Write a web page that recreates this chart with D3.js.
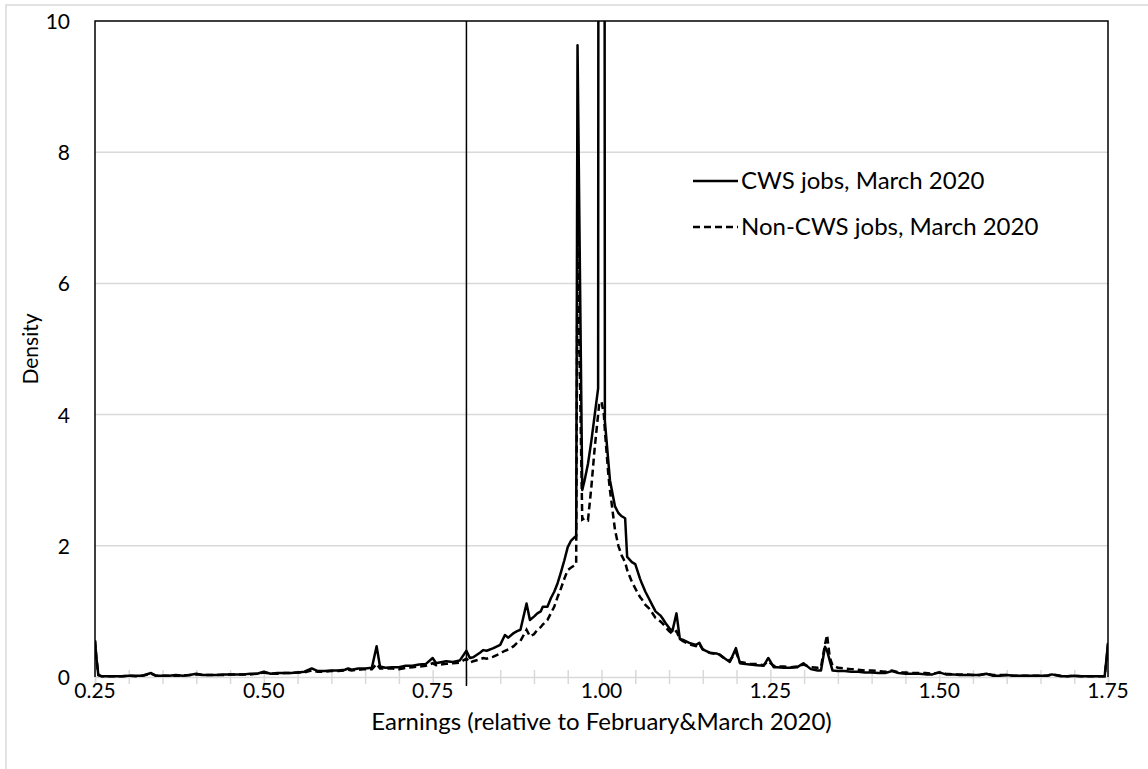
<!DOCTYPE html>
<html>
<head>
<meta charset="utf-8">
<script src="https://cdn.jsdelivr.net/npm/d3@7"></script>
<style>
  body { margin: 0; background: #fff; }
  text { font-family: Lato, "Open Sans", sans-serif; fill: #000; }
</style>
</head>
<body>
<div id="chart"></div>
<script>
// earnings ratio grid (shared by both series)
var earnings = [
  0.250, 0.252, 0.255, 0.26, 0.27, 0.28, 0.29, 0.30, 0.31, 0.32, 0.333, 0.34, 0.35, 0.36, 0.37, 0.38, 0.39,
  0.40, 0.41, 0.42, 0.43, 0.44, 0.45, 0.46, 0.47, 0.48, 0.49, 0.50, 0.51, 0.52, 0.53, 0.54, 0.55, 0.56,
  0.571, 0.58, 0.59, 0.60, 0.61, 0.62, 0.625, 0.63, 0.64, 0.65, 0.66, 0.667, 0.672, 0.68, 0.69, 0.70,
  0.71, 0.72, 0.73, 0.74, 0.75, 0.755, 0.76, 0.77, 0.78, 0.79, 0.80, 0.805, 0.81, 0.82, 0.825, 0.83,
  0.84, 0.85, 0.857, 0.862, 0.87, 0.875, 0.88, 0.889, 0.894, 0.90, 0.905, 0.91, 0.913, 0.92, 0.925,
  0.93, 0.935, 0.94, 0.945, 0.95, 0.955, 0.96, 0.9625, 0.9645, 0.9715, 0.975, 0.98, 0.985, 0.99, 0.995,
  0.9965, 1.00, 1.0035, 1.005, 1.01, 1.0125, 1.02, 1.025, 1.03, 1.035, 1.038, 1.045, 1.05, 1.057, 1.06,
  1.065, 1.07, 1.075, 1.08, 1.087, 1.09, 1.095, 1.10, 1.105, 1.111, 1.116, 1.12, 1.13, 1.14, 1.145,
  1.15, 1.16, 1.17, 1.175, 1.18, 1.19, 1.199, 1.205, 1.21, 1.22, 1.23, 1.24, 1.247, 1.255, 1.26, 1.27,
  1.28, 1.29, 1.299, 1.31, 1.32, 1.325, 1.331, 1.334, 1.338, 1.342, 1.35, 1.36, 1.37, 1.38, 1.39, 1.40,
  1.41, 1.42, 1.43, 1.44, 1.45, 1.46, 1.47, 1.48, 1.49, 1.50, 1.51, 1.52, 1.53, 1.54, 1.55, 1.56, 1.57,
  1.58, 1.59, 1.60, 1.61, 1.62, 1.63, 1.64, 1.65, 1.66, 1.667, 1.68, 1.69, 1.70, 1.71, 1.72, 1.73, 1.74,
  1.745, 1.748, 1.75
];

var cwsJobs = [
  0.56, 0.30, 0.03, 0.01, 0.01, 0.01, 0.01, 0.02, 0.02, 0.02, 0.06, 0.02, 0.02, 0.02, 0.03, 0.02, 0.03,
  0.05, 0.03, 0.03, 0.03, 0.04, 0.04, 0.04, 0.04, 0.05, 0.05, 0.08, 0.05, 0.06, 0.06, 0.06, 0.07, 0.08,
  0.13, 0.09, 0.09, 0.10, 0.10, 0.11, 0.13, 0.11, 0.13, 0.13, 0.14, 0.47, 0.16, 0.14, 0.15, 0.15,
  0.17, 0.17, 0.19, 0.20, 0.29, 0.21, 0.22, 0.24, 0.23, 0.25, 0.40, 0.29, 0.30, 0.37, 0.41, 0.40,
  0.44, 0.49, 0.64, 0.60, 0.67, 0.70, 0.72, 1.12, 0.87, 0.92, 0.97, 1.00, 1.07, 1.07, 1.20,
  1.30, 1.43, 1.60, 1.78, 1.98, 2.08, 2.13, 2.15, 9.63, 2.85, 3.00, 3.25, 3.60, 4.00, 4.40,
  30, 30, 30, 3.90, 3.30, 3.00, 2.60, 2.50, 2.45, 2.42, 1.83, 1.75, 1.72, 1.50, 1.42,
  1.30, 1.20, 1.10, 1.00, 0.94, 0.90, 0.82, 0.75, 0.70, 0.97, 0.58, 0.57, 0.52, 0.49, 0.52,
  0.42, 0.37, 0.36, 0.34, 0.30, 0.23, 0.44, 0.21, 0.20, 0.19, 0.18, 0.17, 0.29, 0.15, 0.15, 0.14,
  0.14, 0.15, 0.21, 0.12, 0.10, 0.10, 0.46, 0.40, 0.25, 0.10, 0.09, 0.09, 0.08, 0.08, 0.07, 0.07,
  0.06, 0.06, 0.09, 0.06, 0.05, 0.05, 0.05, 0.04, 0.04, 0.07, 0.04, 0.04, 0.03, 0.03, 0.03, 0.03, 0.05,
  0.02, 0.02, 0.03, 0.02, 0.02, 0.02, 0.02, 0.02, 0.02, 0.04, 0.01, 0.01, 0.02, 0.01, 0.01, 0.01, 0.01,
  0.01, 0.30, 0.52
];

var nonCwsJobs = [
  0.55, 0.30, 0.03, 0.01, 0.01, 0.01, 0.01, 0.02, 0.01, 0.02, 0.05, 0.02, 0.02, 0.02, 0.02, 0.02, 0.03,
  0.04, 0.03, 0.03, 0.03, 0.03, 0.04, 0.04, 0.04, 0.04, 0.05, 0.07, 0.05, 0.05, 0.06, 0.06, 0.07, 0.07,
  0.10, 0.08, 0.08, 0.09, 0.09, 0.10, 0.11, 0.10, 0.11, 0.12, 0.12, 0.20, 0.13, 0.13, 0.13, 0.12,
  0.14, 0.15, 0.16, 0.17, 0.21, 0.18, 0.19, 0.20, 0.21, 0.22, 0.28, 0.22, 0.24, 0.27, 0.29, 0.28,
  0.31, 0.36, 0.40, 0.42, 0.47, 0.52, 0.55, 0.72, 0.62, 0.65, 0.72, 0.76, 0.80, 0.87, 0.97,
  1.07, 1.22, 1.35, 1.50, 1.63, 1.67, 1.70, 1.72, 6.80, 2.40, 2.42, 2.39, 2.90, 3.50, 4.00,
  4.15, 4.20, 4.00, 3.76, 3.10, 2.85, 2.24, 2.00, 1.85, 1.75, 1.63, 1.45, 1.35, 1.22, 1.18,
  1.10, 1.05, 0.98, 0.90, 0.85, 0.82, 0.76, 0.70, 0.66, 0.70, 0.58, 0.55, 0.50, 0.47, 0.50,
  0.42, 0.37, 0.35, 0.34, 0.30, 0.25, 0.38, 0.23, 0.22, 0.20, 0.20, 0.18, 0.24, 0.17, 0.16, 0.16,
  0.15, 0.16, 0.19, 0.15, 0.14, 0.15, 0.50, 0.64, 0.30, 0.18, 0.14, 0.13, 0.12, 0.11, 0.10, 0.10,
  0.09, 0.08, 0.10, 0.07, 0.07, 0.06, 0.06, 0.06, 0.05, 0.07, 0.05, 0.04, 0.04, 0.04, 0.03, 0.03, 0.05,
  0.03, 0.03, 0.03, 0.02, 0.02, 0.02, 0.02, 0.02, 0.02, 0.04, 0.02, 0.01, 0.02, 0.01, 0.01, 0.01, 0.01,
  0.01, 0.28, 0.50
];

var seriesNames = ['CWS jobs, March 2020', 'Non-CWS jobs, March 2020'];
var xTickLabels = [0.25, 0.50, 0.75, 1.00, 1.25, 1.50, 1.75];
var yTickLabels = [0, 2, 4, 6, 8, 10];
var cutoff = 0.80;

var W = 1148, H = 769;
var pl = 95, pr = 1108, pt = 21, pb = 677;

var svg = d3.select('#chart').append('svg').attr('width', W).attr('height', H);

// outer chart-area border
svg.append('rect')
  .attr('x', 6).attr('y', 5).attr('width', W + 20).attr('height', H + 20)
  .attr('fill', 'none').attr('stroke', '#d9d9d9').attr('stroke-width', 1.5);

var x = d3.scaleLinear().domain([0.25, 1.75]).range([pl, pr]);
var y = d3.scaleLinear().domain([0, 10]).range([pb, pt]);

svg.append('clipPath').attr('id', 'plot')
  .append('rect').attr('x', pl).attr('y', pt).attr('width', pr - pl).attr('height', pb - pt + 2);

// gridlines
svg.append('g')
  .selectAll('line')
  .data(yTickLabels.filter(d => d > 0 && d < 10))
  .enter().append('line')
  .attr('x1', pl).attr('x2', pr)
  .attr('y1', d => y(d)).attr('y2', d => y(d))
  .attr('stroke', '#d9d9d9').attr('stroke-width', 1.5);

// x axis with crossing minor ticks every 0.05
var minor = d3.range(0, 31).map(i => 0.25 + i * 0.05);
var xAxis = svg.append('g')
  .attr('transform', `translate(0, ${pb})`)
  .call(d3.axisBottom(x).tickValues(minor).tickSize(7).tickFormat(''));
xAxis.select('.domain').attr('stroke', '#d9d9d9').attr('stroke-width', 1.5);
xAxis.selectAll('.tick line').attr('y1', -7).attr('stroke', '#d9d9d9').attr('stroke-width', 1.5);

svg.append('g')
  .selectAll('text')
  .data(xTickLabels)
  .enter().append('text')
  .attr('x', d => x(d)).attr('y', pb + 21)
  .attr('text-anchor', 'middle')
  .style('font-size', '21px')
  .text(d => d.toFixed(2));

svg.append('g')
  .selectAll('text')
  .data(yTickLabels)
  .enter().append('text')
  .attr('x', 70).attr('y', d => y(d) + 8)
  .attr('text-anchor', 'end')
  .style('font-size', '21px')
  .text(d => d);

// plot frame (left, top, right)
svg.append('path')
  .attr('d', `M${pl},${pb}V${pt}H${pr}V${pb}`)
  .attr('fill', 'none').attr('stroke', '#000').attr('stroke-width', 1.5);

// cutoff marker
svg.append('line')
  .attr('x1', x(cutoff)).attr('x2', x(cutoff))
  .attr('y1', pt).attr('y2', pb + 9)
  .attr('stroke', '#000').attr('stroke-width', 1.5);

var line = d3.line()
  .x((d, i) => x(earnings[i]))
  .y(d => y(d));

var plot = svg.append('g').attr('clip-path', 'url(#plot)');

plot.append('path')
  .datum(nonCwsJobs)
  .attr('d', line)
  .attr('fill', 'none').attr('stroke', '#000').attr('stroke-width', 2.5)
  .attr('stroke-dasharray', '7,4');

plot.append('path')
  .datum(cwsJobs)
  .attr('d', line)
  .attr('fill', 'none').attr('stroke', '#000').attr('stroke-width', 2.5)
  .attr('stroke-linejoin', 'round');

// legend
var legend = svg.append('g');
seriesNames.forEach(function (name, i) {
  var ly = 181 + i * 46;
  legend.append('line')
    .attr('x1', 693).attr('x2', 738).attr('y1', ly).attr('y2', ly)
    .attr('stroke', '#000').attr('stroke-width', 2.5)
    .attr('stroke-dasharray', i === 1 ? '7,4' : null);
  legend.append('text')
    .attr('x', 741).attr('y', ly + 8)
    .style('font-size', '24px')
    .text(name);
});

svg.append('text')
  .attr('transform', `translate(38, ${(pt + pb) / 2}) rotate(-90)`)
  .attr('text-anchor', 'middle')
  .style('font-size', '21px')
  .text('Density');

svg.append('text')
  .attr('x', (pl + pr) / 2).attr('y', 730)
  .attr('text-anchor', 'middle')
  .style('font-size', '24px')
  .text('Earnings (relative to February&March 2020)');
</script>
</body>
</html>
